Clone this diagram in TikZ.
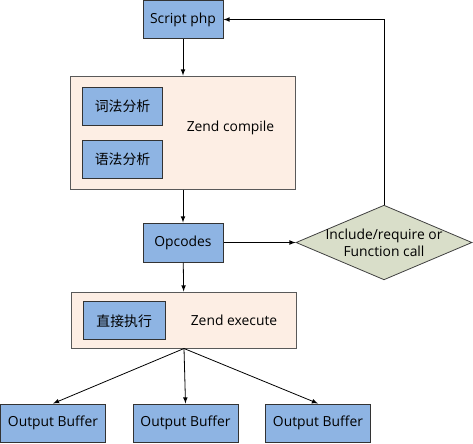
\documentclass[tikz,border=0pt]{standalone}
\usepackage{fontspec}
\setmainfont{Open Sans}
\newfontfamily\cjk{Noto Sans CJK SC}
\usetikzlibrary{shapes.geometric}

\begin{document}
\begin{tikzpicture}[x=0.75pt,y=-0.75pt,font=\fontsize{10.4}{12.5}\selectfont,
  bluebox/.style={draw=black!80,fill=boxblue,line width=0.75pt,inner sep=0,minimum width=60pt,minimum height=28.5pt},
  stagebox/.style={draw=black!65,fill=peach,line width=0.75pt,inner sep=0},
  decision/.style={diamond,draw=black!75,fill=sage,line width=0.6pt,inner sep=0,minimum width=132pt,minimum height=56pt},
  arrow/.style={->,>=latex,line width=0.6pt}]
\definecolor{boxblue}{HTML}{8EB4E3}
\definecolor{peach}{HTML}{FDEEE4}
\definecolor{sage}{HTML}{D9DEC9}
\useasboundingbox (0,0) rectangle (473,443);
\node [bluebox] (script) at (183,19.5) {Script php};
\node [stagebox,minimum width=168.75pt,minimum height=84.75pt] (compile) at (183,132.5) {};
\node at (230.5,128) (compiletxt) {Zend compile};
\node [bluebox] (lexer) at (122.5,106.7) {\cjk 词法分析};
\node [bluebox] (parser) at (122.5,159) {\cjk 语法分析};
\node [bluebox,minimum height=29.25pt] (opcodes) at (183,242.5) {Opcodes};
\node [decision,label={[align=center]center:Include/require or\\Function call}] (call) at (384,242.5) {};
\node [stagebox,minimum width=169.3pt,minimum height=42pt] (execute) at (184,320) {};
\node at (234,320) (executetxt) {Zend execute};
\node [bluebox,minimum width=61.3pt] (direct) at (124.2,320.8) {\cjk 直接执行};
  \foreach \name/\pos in {outa/53,outb/185.5,outc/318}
  {  \node [bluebox,minimum width=78.75pt] (\name) at (\pos,423) {Output Buffer};
     \draw [arrow] (execute.south) -- (\name.north);}
\draw [arrow] (script) -- (compile);
\draw [arrow] (compile) -- (opcodes);
\draw [arrow] (opcodes) -- (execute);
\draw [arrow] (opcodes) -- (call);
\draw [arrow] (call.north) |- (script.east);
\end{tikzpicture}
\end{document}
